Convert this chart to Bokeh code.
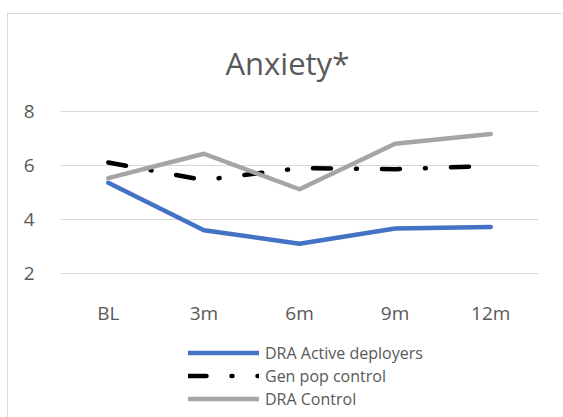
from bokeh.plotting import figure
from bokeh.models import FixedTicker, Legend, LegendItem, Range1d
from bokeh.layouts import column
from bokeh.embed import file_html
from bokeh.resources import INLINE

# Anxiety scores by follow-up time point
timepoints = ["BL", "3m", "6m", "9m", "12m"]
dra_active = [5.36, 3.61, 3.11, 3.67, 3.73]
gen_pop = [6.11, 5.46, 5.90, 5.86, 5.98]
dra_control = [5.53, 6.43, 5.12, 6.80, 7.16]
y_ticks = [2, 4, 6, 8]

series = [
    ("DRA Active deployers", dra_active, dict(line_color="#4472C4")),
    ("Gen pop control", gen_pop, dict(line_color="black", line_dash="18 25 1 25")),
    ("DRA Control", dra_control, dict(line_color="#A5A5A5")),
]

FONT = "Open Sans"
TEXT = "#595959"
common = dict(line_width=4.5, line_join="round", line_cap="round")

# --- main chart ---
p = figure(
    x_range=timepoints,
    y_range=Range1d(1.9, 8.1),
    width=554, height=316,
    output_backend="svg", toolbar_location=None,
    min_border_left=52, min_border_right=24,
    min_border_top=94, min_border_bottom=54,
    title="Anxiety*",
)
p.outline_line_color = None
p.border_fill_color = "white"

p.title.align = "left"
p.title.offset = 165
p.title.text_font = FONT
p.title.text_font_size = "31px"
p.title.text_font_style = "normal"
p.title.text_color = TEXT
p.title.standoff = 49

p.xgrid.grid_line_color = None
p.ygrid.grid_line_color = "#d9d9d9"
p.ygrid.grid_line_width = 1.2

p.yaxis.ticker = FixedTicker(ticks=y_ticks)
for ax in (p.xaxis, p.yaxis):
    ax.axis_line_color = None
    ax.major_tick_line_color = None
    ax.minor_tick_line_color = None
    ax.major_label_text_font = FONT
    ax.major_label_text_font_size = "19px"
    ax.major_label_text_color = TEXT
p.xaxis.major_label_standoff = 17
p.yaxis.major_label_standoff = 20

for name, values, style in series:
    p.line(timepoints, values, **style, **common)

# --- legend strip below the chart ---
leg_fig = figure(
    x_range=timepoints, y_range=Range1d(0, 1),
    width=554, height=87,
    output_backend="svg", toolbar_location=None,
    x_axis_type=None, y_axis_type=None,
    min_border_left=52, min_border_right=24,
    min_border_top=0, min_border_bottom=0,
)
leg_fig.outline_line_color = None
leg_fig.xgrid.grid_line_color = None
leg_fig.ygrid.grid_line_color = None

items = []
for name, values, style in series:
    # hidden copy of each series, used only for its legend swatch
    r = leg_fig.line(timepoints, values, visible=False, **style, **common)
    items.append(LegendItem(label=name, renderers=[r]))

legend = Legend(
    items=items,
    location=(128, 7),
    orientation="vertical",
    glyph_width=71, glyph_height=23, label_height=23,
    label_standoff=6, spacing=0, padding=0, margin=0,
    border_line_color=None, background_fill_alpha=0,
    inactive_fill_alpha=0,
    label_text_font=FONT, label_text_font_size="16px",
    label_text_color=TEXT,
)
leg_fig.add_layout(legend)

layout = column(
    p, leg_fig, spacing=0,
    styles={
        "margin-left": "7px", "margin-top": "13px",
        "border-width": "1px 0 0 1px", "border-style": "solid",
        "border-color": "#d9d9d9",
    },
)

open("out.html", "w").write(file_html(layout, INLINE))
